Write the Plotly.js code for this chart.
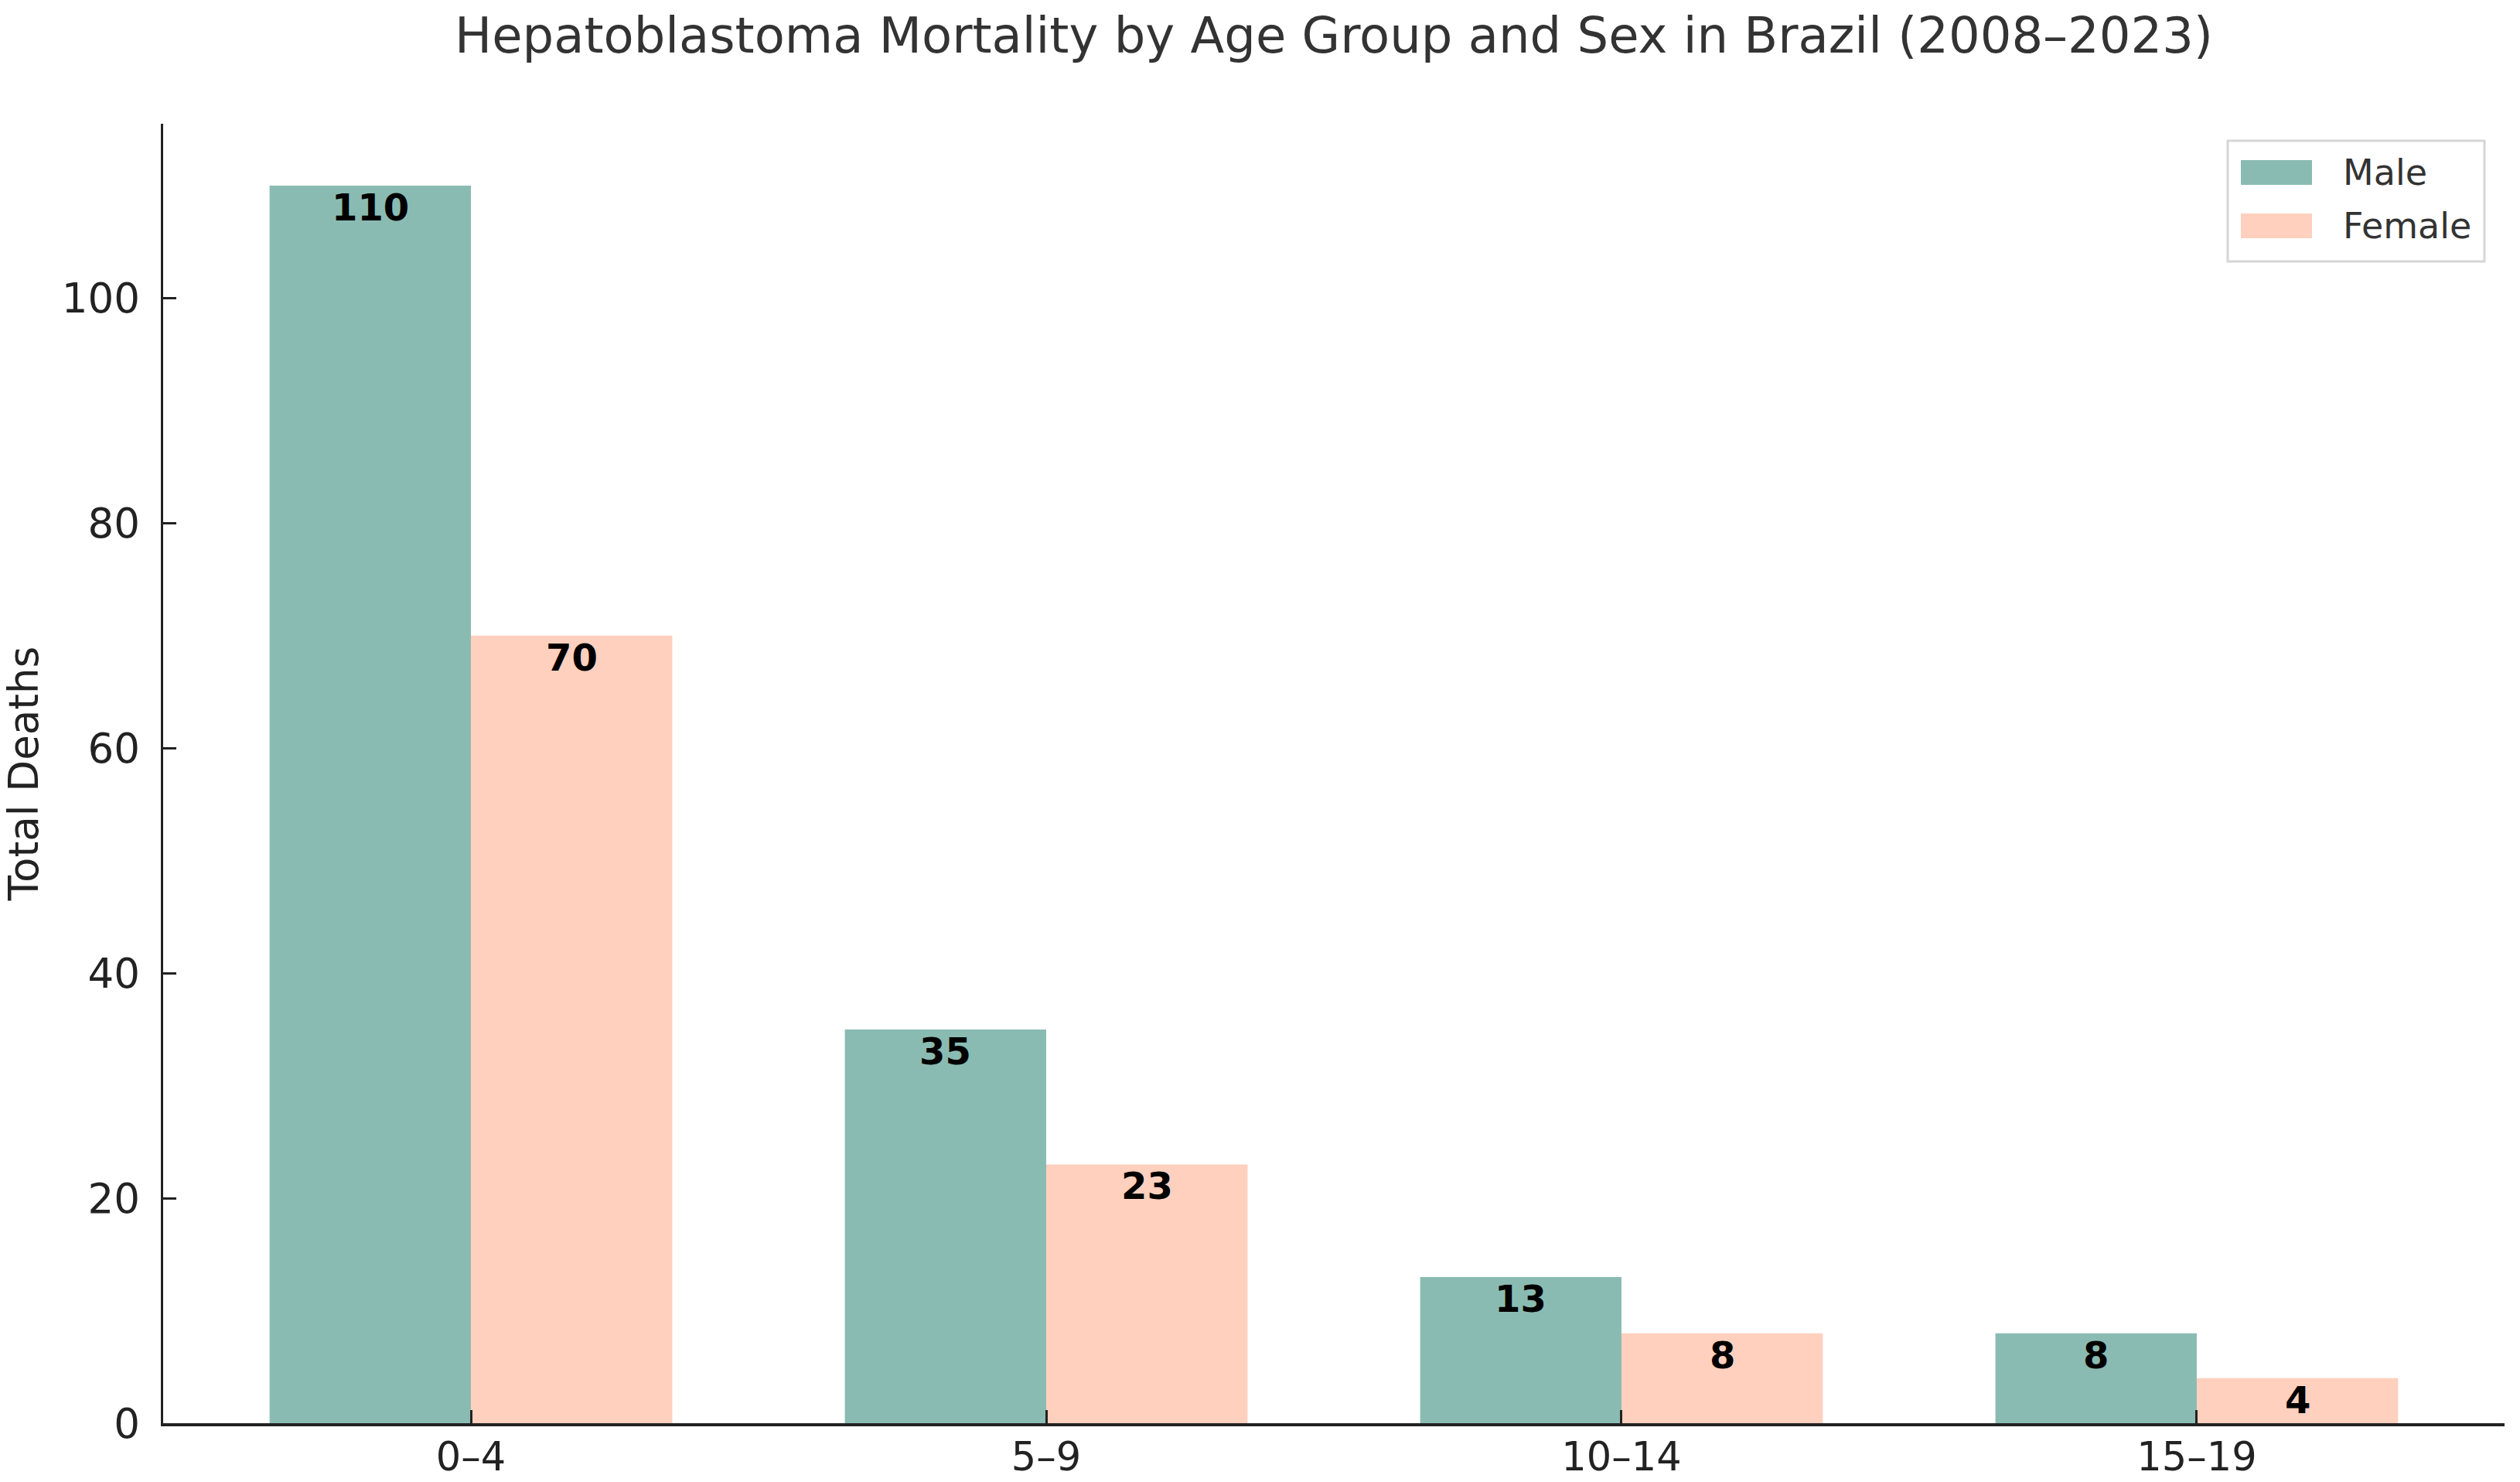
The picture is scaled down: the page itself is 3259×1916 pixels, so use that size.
<!DOCTYPE html>
<html>
<head>
<meta charset="utf-8">
<script src="https://cdn.plot.ly/plotly-3.0.1.min.js"></script>
<style>html,body{margin:0;padding:0;background:#fff;}#chart{width:3259px;height:1916px;}</style>
</head>
<body>
<div id="chart"></div>
<script>
const categories = ["0–4", "5–9", "10–14", "15–19"];
const seriesNames = ["Male", "Female"];
const maleDeaths = [110, 35, 13, 8];
const femaleDeaths = [70, 23, 8, 4];
const seriesColors = ["#8abbb2", "#ffd0be"];

const idx = categories.map((c, i) => i);
const barW = 0.35;
const FONT = "DejaVu Sans, sans-serif";

const traces = [
  {type: "bar", name: seriesNames[0], x: idx, y: maleDeaths, width: barW, offset: -barW,
   marker: {color: seriesColors[0], line: {width: 0}}, hoverinfo: "y"},
  {type: "bar", name: seriesNames[1], x: idx, y: femaleDeaths, width: barW, offset: 0,
   marker: {color: seriesColors[1], line: {width: 0}}, hoverinfo: "y"}
];

const annotations = [];
[maleDeaths, femaleDeaths].forEach((vals, s) => {
  vals.forEach((v, i) => {
    annotations.push({
      x: i + (s === 0 ? -barW / 2 : barW / 2), y: v, xref: "x", yref: "y",
      text: "<b>" + v + "</b>", showarrow: false, yanchor: "middle", yshift: -28,
      font: {family: FONT, size: 48, color: "#000"}
    });
  });
});

// Custom legend (matplotlib-like)
const W = 3259, H = 1916, ml = 211, mr = 20, mt = 160, mb = 76;
const pw = W - ml - mr, ph = H - mt - mb;
function px2x(p) { return (p - ml) / pw; }
function py2y(p) { return 1 - (p - mt) / ph; }
const shapes = [];
shapes.push({type: "rect", xref: "paper", yref: "paper", layer: "above",
  x0: px2x(2881), x1: px2x(3213), y0: py2y(338), y1: py2y(182),
  line: {color: "#d6d6d6", width: 3}, fillcolor: "rgba(255,255,255,0.8)"});
const swY = [[207, 239], [276, 308]];
const txY = [223, 292];
seriesNames.forEach((n, s) => {
  shapes.push({type: "rect", xref: "paper", yref: "paper", layer: "above",
    x0: px2x(2898), x1: px2x(2990), y0: py2y(swY[s][1]), y1: py2y(swY[s][0]),
    line: {width: 0}, fillcolor: seriesColors[s]});
  annotations.push({xref: "paper", yref: "paper", x: px2x(3028), y: py2y(txY[s]),
    xanchor: "left", yanchor: "middle", showarrow: false, text: n,
    font: {family: FONT, size: 46, color: "#333"}});
});

const layout = {
  width: W, height: H,
  margin: {l: ml, r: mr, t: mt, b: mb},
  paper_bgcolor: "#fff", plot_bgcolor: "#fff",
  font: {family: FONT, color: "#222"},
  title: {text: "Hepatoblastoma Mortality by Age Group and Sex in Brazil (2008–2023)",
    font: {family: FONT, size: 64, color: "#333"}, x: (ml + pw / 2) / W, xanchor: "center", y: 1 - 46 / H, yanchor: "middle"},
  showlegend: false,
  barmode: "overlay",
  xaxis: {
    type: "linear", range: [-0.535, 3.535], tickmode: "array", tickvals: idx, ticktext: categories,
    showgrid: false, zeroline: false, showline: true, linecolor: "#222", linewidth: 3.5,
    ticks: "inside", ticklen: 17, tickwidth: 3, tickcolor: "#222",
    tickfont: {family: FONT, size: 51, color: "#222"}, ticklabelstandoff: -4
  },
  yaxis: {
    range: [0, 115.5], tickvals: [0, 20, 40, 60, 80, 100],
    showgrid: false, zeroline: false, showline: true, linecolor: "#222", linewidth: 3.5,
    ticks: "inside", ticklen: 17, tickwidth: 3, tickcolor: "#222",
    tickfont: {family: FONT, size: 53, color: "#222"}, ticklabelstandoff: 16,
    title: {text: "Total Deaths", font: {family: FONT, size: 53, color: "#222"}, standoff: 26}
  },
  annotations: annotations,
  shapes: shapes
};

Plotly.newPlot("chart", traces, layout, {displayModeBar: false, staticPlot: true});
</script>
</body>
</html>
